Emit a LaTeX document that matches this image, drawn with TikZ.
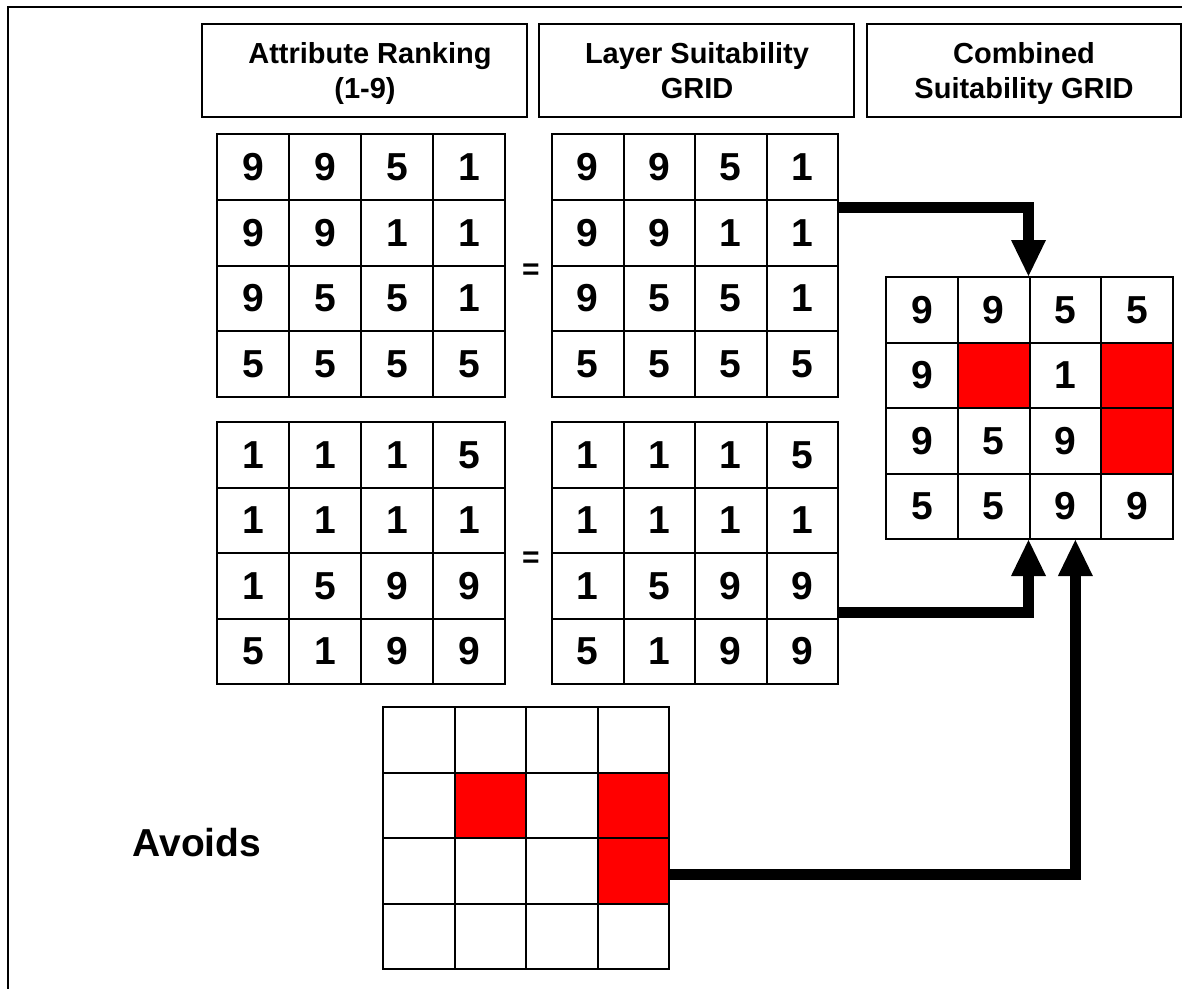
\documentclass[tikz,border=0pt]{standalone}
\usepackage{fontspec}
\setmainfont{Liberation Sans}
\usetikzlibrary{arrows.meta}
\newcommand{\mkgrid}[6]{%
  \foreach \v/\f [count=\i from 0] in {#6} {%
    \pgfmathtruncatemacro\cc{mod(\i,4)}%
    \pgfmathtruncatemacro\rr{(\i-\cc)/4}%
    \node[cellbox, fill=\f, minimum width=#4pt, minimum height=#5pt]
      (#1-\rr-\cc) at ({#2+(\cc+0.5)*#4},{#3+(\rr+0.5)*#5}) {\v};
  }%
  \node[gridframe, minimum width=4*#4pt, minimum height=4*#5pt, anchor=north west]
    (#1) at (#2,#3) {};
}
\begin{document}
\begin{tikzpicture}[x=1pt,y=-1pt,
  hdrbox/.style={draw, line width=2pt, inner sep=0pt},
  hdrtxt/.style={font=\bfseries\fontsize{29}{34}\selectfont, anchor=base, inner sep=0pt},
  cellbox/.style={draw, line width=2pt, inner sep=0pt, text depth=-3pt, font=\bfseries\fontsize{39}{39}\selectfont},
  gridframe/.style={inner sep=0pt, outer sep=0pt},
  eqsign/.style={font=\bfseries\fontsize{30}{30}\selectfont, inner sep=0pt},
  bigarrow/.style={line width=11pt, line join=miter, line cap=butt,
    -{Triangle[length=36pt,width=35pt,line width=0pt]}}]
\useasboundingbox (0,0) rectangle (1182,988);
\clip (0,0) rectangle (1182,988);
\fill[white] (0,0) rectangle (1182,988);
% outer frame
\draw[line width=2pt] (8,7) rectangle (1300,1100);
% headers
\node[hdrbox, minimum width=325pt, minimum height=93pt] (h1) at (364.5,70.5) {};
\node[hdrbox, minimum width=315pt, minimum height=93pt] (h2) at (696.5,70.5) {};
\node[hdrbox, minimum width=314pt, minimum height=93pt] (h3) at (1024,70.5) {};
\node[hdrtxt] (h1a) at (370,63) {Attribute Ranking};
\node[hdrtxt] (h1b) at (365,98) {(1-9)};
\node[hdrtxt] (h2a) at (697,63) {Layer Suitability};
\node[hdrtxt] (h2b) at (697,98) {GRID};
\node[hdrtxt] (h3a) at (1024,63) {Combined};
\node[hdrtxt] (h3b) at (1024,98) {Suitability GRID};
% grids
\mkgrid{A}{217}{134}{72}{65.75}{9/white,9/white,5/white,1/white,9/white,9/white,1/white,1/white,9/white,5/white,5/white,1/white,5/white,5/white,5/white,5/white}
\mkgrid{B}{552}{134}{71.5}{65.75}{9/white,9/white,5/white,1/white,9/white,9/white,1/white,1/white,9/white,5/white,5/white,1/white,5/white,5/white,5/white,5/white}
\mkgrid{C}{217}{422}{72}{65.5}{1/white,1/white,1/white,5/white,1/white,1/white,1/white,1/white,1/white,5/white,9/white,9/white,5/white,1/white,9/white,9/white}
\mkgrid{D}{552}{422}{71.5}{65.5}{1/white,1/white,1/white,5/white,1/white,1/white,1/white,1/white,1/white,5/white,9/white,9/white,5/white,1/white,9/white,9/white}
\mkgrid{E}{886}{277}{71.75}{65.5}{9/white,9/white,5/white,5/white,9/white,{}/red,1/white,{}/red,9/white,5/white,9/white,{}/red,5/white,5/white,9/white,9/white}
\mkgrid{F}{383}{707}{71.5}{65.5}{{}/white,{}/white,{}/white,{}/white,{}/white,{}/red,{}/white,{}/red,{}/white,{}/white,{}/white,{}/red,{}/white,{}/white,{}/white,{}/white}
% equals signs
\node[eqsign] (eq1) at (531,272) {=};
\node[eqsign] (eq2) at (531,560) {=};
% label
\node[font=\bfseries\fontsize{39}{39}\selectfont, anchor=base, inner sep=0pt] (avoids) at (197,856) {Avoids};
% arrows
\draw[bigarrow] ([yshift=-73pt]B.north east) -| (E-0-2.north west);
\draw[bigarrow] ([yshift=71.5pt]D.south east) -| (E-3-2.south west);
\draw[bigarrow] ([yshift=-36pt]F.east) -| ([xshift=10pt]E-3-2.south);
\end{tikzpicture}
\end{document}
